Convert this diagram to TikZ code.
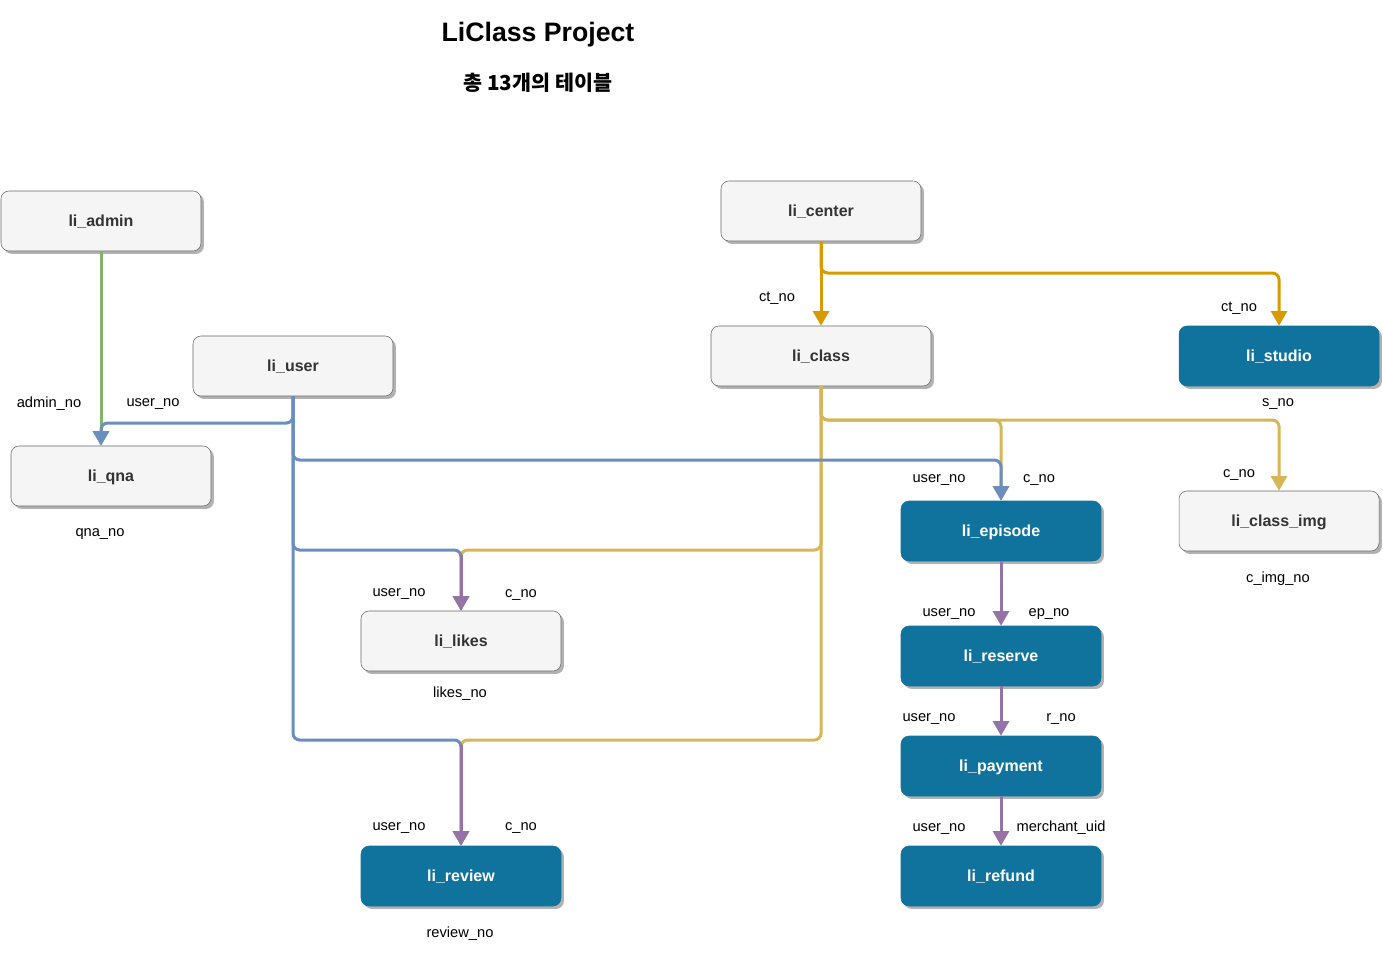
\documentclass[tikz,border=0pt]{standalone}
\usepackage{fontspec}
\setmainfont{Liberation Sans}
\newfontfamily\kr{Noto Sans CJK KR}
\usetikzlibrary{arrows.meta,shadows}
\definecolor{tblue}{HTML}{10739E}
\definecolor{tgray}{HTML}{F5F5F5}
\definecolor{tborder}{HTML}{666666}
\definecolor{ttext}{HTML}{333333}
\definecolor{eblue}{HTML}{6C8EBF}
\definecolor{eyellow}{HTML}{D6B656}
\definecolor{eorange}{HTML}{D79B00}
\definecolor{egreen}{HTML}{82B366}
\definecolor{epurple}{HTML}{9673A6}
\tikzset{
 tbl/.style={rectangle, rounded corners=6pt, minimum width=150pt, minimum height=45pt,
   text depth=0pt, text height=8.6pt,
   font=\bfseries\fontsize{12}{14}\selectfont,
   drop shadow={shadow xshift=2.2pt, shadow yshift=-2.2pt, fill=black!30, opacity=1}},
 grayt/.style={tbl, fill=tgray, draw=tborder, text=ttext},
 bluet/.style={tbl, fill=tblue, draw=tblue, text=white},
 lbl/.style={font=\fontsize{11}{13}\selectfont, inner sep=0pt, text=black, yshift=-2pt},
 conn/.style={line width=2.25pt, rounded corners=5pt, -{Triangle[length=11pt,width=12pt]}},
}
\begin{document}
\begin{tikzpicture}[x=0.75pt,y=-0.75pt]
\useasboundingbox (0,0) rectangle (1383,956);

% titles
\node (title) at (538,35) {\bfseries\fontsize{20}{24}\selectfont LiClass Project};
\node (sub) at (538,83) {\kr\bfseries\fontsize{15.5}{18}\selectfont 총 13개의 테이블};

% tables
\node[grayt] (admin) at (101,221) {li\_admin};
\node[grayt] (center) at (821,211) {li\_center};
\node[grayt] (user) at (293,366) {li\_user};
\node[grayt, minimum width=165pt] (class) at (821,356) {li\_class};
\node[bluet] (studio) at (1279,356) {li\_studio};
\node[grayt] (qna) at (111,476) {li\_qna};
\node[bluet] (episode) at (1001,531) {li\_episode};
\node[grayt] (classimg) at (1279,521) {li\_class\_img};
\node[grayt] (likes) at (461,641) {li\_likes};
\node[bluet] (reserve) at (1001,656) {li\_reserve};
\node[bluet] (payment) at (1001,766) {li\_payment};
\node[bluet] (refund) at (1001,876) {li\_refund};
\node[bluet] (review) at (461,876) {li\_review};

% orange: center -> class, studio
\draw[conn, eorange] (center.south) -- (class.north);
\draw[conn, eorange] (center.south) -- (center.south |- 0,273) -| (studio.north);

% green: admin -> qna
\draw[conn, egreen] (admin.south) -- (admin.south |- qna.north);

% yellow: class -> episode, class_img, likes, review
\draw[conn, eyellow] (class.south) -- (class.south |- 0,420) -| (episode.north);
\draw[conn, eyellow] (class.south) -- (class.south |- 0,420) -| (classimg.north);
\draw[conn, eyellow] (class.south) -- (class.south |- 0,550) -| (likes.north);
\draw[conn, eyellow] (class.south) -- (class.south |- 0,740) -| (review.north);

% blue: user -> qna, episode, likes, review
\draw[conn, eblue] (user.south) -- (user.south |- 0,423) -| (admin.south |- qna.north);
\draw[conn, eblue] (user.south) -- (user.south |- 0,460) -| (episode.north);
\draw[conn, eblue] (user.south) -- (user.south |- 0,550) -| (likes.north);
\draw[conn, eblue] (user.south) -- (user.south |- 0,740) -| (review.north);

% purple overlays and chain
\draw[conn, epurple] (likes.north |- 0,555) -- (likes.north);
\draw[conn, epurple] (review.north |- 0,745) -- (review.north);
\draw[conn, epurple] (episode.south) -- (reserve.north);
\draw[conn, epurple] (reserve.south) -- (payment.north);
\draw[conn, epurple] (payment.south) -- (refund.north);

% labels
\node[lbl] (l1) at (49,401) {admin\_no};
\node[lbl] (l2) at (153,401) {user\_no};
\node[lbl] (l3) at (777,296) {ct\_no};
\node[lbl] (l4) at (1239,306) {ct\_no};
\node[lbl] (l5) at (1278,401) {s\_no};
\node[lbl] (l6) at (100,531) {qna\_no};
\node[lbl] (l7) at (939,477) {user\_no};
\node[lbl] (l8) at (1039,477) {c\_no};
\node[lbl] (l9) at (1239,472) {c\_no};
\node[lbl] (l10) at (1278,576) {c\_img\_no};
\node[lbl] (l11) at (399,591) {user\_no};
\node[lbl] (l12) at (521,592) {c\_no};
\node[lbl] (l13) at (460,691) {likes\_no};
\node[lbl] (l14) at (949,611) {user\_no};
\node[lbl] (l15) at (1049,611) {ep\_no};
\node[lbl] (l16) at (929,716) {user\_no};
\node[lbl] (l17) at (1061,716) {r\_no};
\node[lbl] (l18) at (939,826) {user\_no};
\node[lbl] (l19) at (1061,825) {merchant\_uid};
\node[lbl] (l20) at (399,825) {user\_no};
\node[lbl] (l21) at (521,825) {c\_no};
\node[lbl] (l22) at (460,931) {review\_no};
\end{tikzpicture}
\end{document}
